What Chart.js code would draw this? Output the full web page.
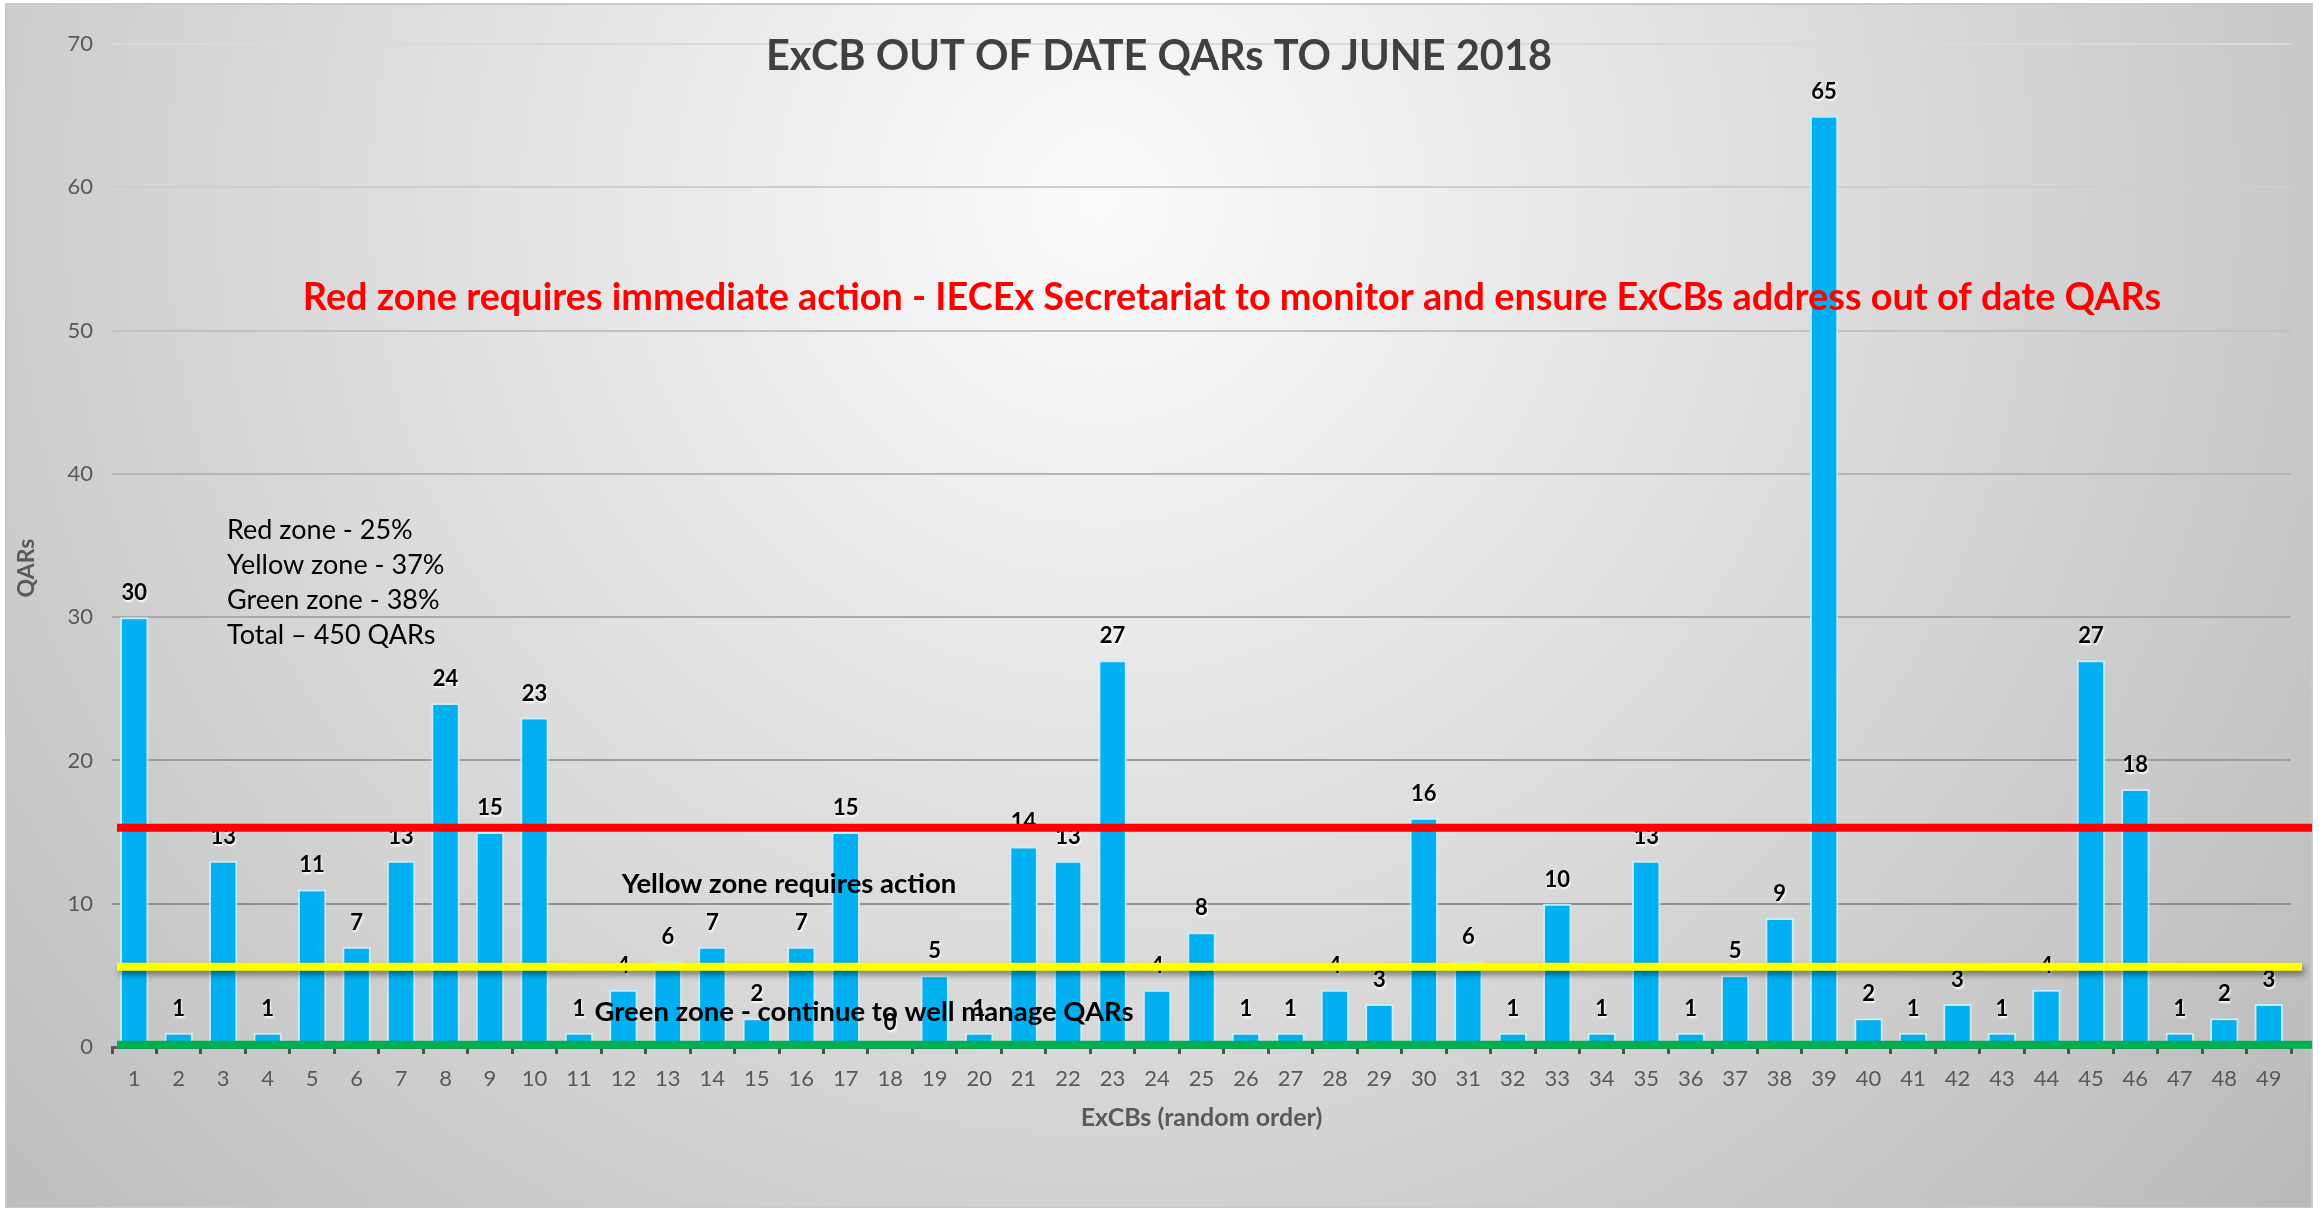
<!DOCTYPE html>
<html>
<head>
<meta charset="utf-8">
<title>ExCB out of date QARs</title>
<script src="https://cdn.jsdelivr.net/npm/chart.js@4.4.1/dist/chart.umd.min.js"></script>
<style>
  html, body { margin: 0; padding: 0; background: #fff; }
  #wrap { width: 2323px; height: 1208px; }
</style>
</head>
<body>
<div id="wrap"><canvas id="chart" width="2323" height="1208"></canvas></div>
<script>
const excbs = ["1", "2", "3", "4", "5", "6", "7", "8", "9", "10", "11", "12", "13", "14", "15", "16", "17",
  "18", "19", "20", "21", "22", "23", "24", "25", "26", "27", "28", "29", "30", "31", "32", "33", "34",
  "35", "36", "37", "38", "39", "40", "41", "42", "43", "44", "45", "46", "47", "48", "49"];
const qars = [30, 1, 13, 1, 11, 7, 13, 24, 15, 23, 1, 4, 6, 7, 2, 7, 15, 0, 5, 1, 14, 13, 27, 4, 8,
  1, 1, 4, 3, 16, 6, 1, 10, 1, 13, 1, 5, 9, 65, 2, 1, 3, 1, 4, 27, 18, 1, 2, 3];

const zoneNames = ["Red zone", "Yellow zone", "Green zone"];
const zoneShare = [25, 37, 38];
const zoneLevels = [15.3, 5.6, 0.15];
const zoneColors = ["#ff0000", "#ffff00", "#00b050"];

const title = "ExCB OUT OF DATE QARs TO JUNE 2018";
const redNote = "Red zone requires immediate action - IECEx Secretariat to monitor and ensure ExCBs address out of date QARs";
const yellowNote = "Yellow zone requires action";
const greenNote = "Green zone - continue to well manage QARs";

const FONT = "Lato, 'Open Sans', sans-serif";
const total = qars.reduce((a, b) => a + b, 0);

// gridlines fade out towards the top like the original
function gridGrey(v) {
  const t = Math.min(1, Math.max(0, (v - 10) / 60));
  const g = Math.round(0x8f + t * (0xda - 0x8f));
  return `rgb(${g},${g},${g})`;
}

const backdrop = {
  id: "backdrop",
  beforeDraw(chart) {
    const { ctx, width, height } = chart;
    ctx.save();
    ctx.fillStyle = "#fff";
    ctx.fillRect(0, 0, width, height);
    const g = ctx.createRadialGradient(1100, 200, 0, 1100, 200, 1600);
    g.addColorStop(0, "#fbfbfb");
    g.addColorStop(1, "#b8b8b8");
    ctx.fillStyle = g;
    ctx.fillRect(6, 4, width - 17, height - 4);
    ctx.strokeStyle = "#c9c9c9";
    ctx.lineWidth = 2;
    ctx.strokeRect(6, 4, width - 17, height - 4);
    ctx.restore();
  }
};

const overlays = {
  id: "overlays",
  afterDatasetsDraw(chart) {
    const { ctx, chartArea, width } = chart;
    const y = chart.scales.y;
    const meta = chart.getDatasetMeta(0);

    // value labels
    ctx.save();
    ctx.font = `bold 22px ${FONT}`;
    ctx.textAlign = "center";
    ctx.textBaseline = "middle";
    ctx.fillStyle = "#000";
    ctx.shadowColor = "rgba(255,255,255,0.95)";
    ctx.shadowOffsetX = 1;
    ctx.shadowOffsetY = 2;
    ctx.shadowBlur = 2;
    meta.data.forEach((bar, i) => ctx.fillText(String(qars[i]), bar.x, bar.y - 24));
    ctx.restore();

    // zone lines
    const ends = [width - 11, width - 21, width - 11];
    zoneLevels.forEach((lvl, i) => {
      const py = y.getPixelForValue(lvl);
      ctx.save();
      if (i === 1) {
        ctx.shadowColor = "rgba(0,0,0,0.45)";
        ctx.shadowBlur = 6;
        ctx.shadowOffsetX = 2;
        ctx.shadowOffsetY = 4;
      }
      ctx.strokeStyle = zoneColors[i];
      ctx.lineWidth = 8;
      ctx.beginPath();
      ctx.moveTo(chartArea.left + 5, py);
      ctx.lineTo(ends[i], py);
      ctx.stroke();
      ctx.restore();
    });

    // notes
    ctx.save();
    ctx.textBaseline = "middle";
    ctx.textAlign = "center";
    ctx.fillStyle = "#ff0000";
    ctx.font = `bold 37.8px ${FONT}`;
    ctx.fillText(redNote, 1232, y.getPixelForValue(52.3));

    ctx.fillStyle = "#000";
    ctx.font = `bold 27.5px ${FONT}`;
    ctx.fillText(yellowNote, 789, y.getPixelForValue(11.4));
    ctx.fillText(greenNote, 864, y.getPixelForValue(2.4));

    ctx.textAlign = "left";
    ctx.font = `27px ${FONT}`;
    const lines = zoneNames.map((n, i) => `${n} - ${zoneShare[i]}%`).concat([`Total – ${total} QARs`]);
    lines.forEach((t, i) => ctx.fillText(t, 227, 530 + i * 35));

    ctx.textAlign = "center";
    ctx.fillStyle = "#404040";
    ctx.font = `bold 41.5px ${FONT}`;
    ctx.fillText(title, 1159, 57);

    // y axis title, sits a bit below the middle of the axis in the original
    ctx.translate(27, 568);
    ctx.rotate(-Math.PI / 2);
    ctx.fillStyle = "#595959";
    ctx.font = `bold 23px ${FONT}`;
    ctx.fillText("QARs", 0, 0);
    ctx.restore();
  }
};

new Chart(document.getElementById("chart"), {
  type: "bar",
  data: {
    labels: excbs,
    datasets: [{
      label: "QARs",
      data: qars,
      backgroundColor: "#00b0f0",
      borderColor: "rgba(200,238,252,0.95)",
      borderWidth: 2,
      categoryPercentage: 1,
      barPercentage: 0.64,
    }],
  },
  options: {
    responsive: false,
    devicePixelRatio: 1,
    animation: false,
    layout: { padding: { left: 6, top: 44, right: 32, bottom: 0 } },
    plugins: {
      legend: { display: false },
      tooltip: { enabled: false },
      title: { display: false },
    },
    scales: {
      x: {
        afterFit: s => { s.height = 161; },
        grid: { drawOnChartArea: false, drawTicks: true, tickLength: 7, color: "#505050", lineWidth: 3 },
        border: { display: true, color: "#595959", width: 3 },
        ticks: { color: "#595959", font: { family: FONT, size: 22 }, padding: 12, maxRotation: 0, autoSkip: false },
        title: {
          display: true, text: "ExCBs (random order)", color: "#595959",
          font: { family: FONT, size: 25, weight: "bold" }, padding: { top: 0, bottom: 75 },
        },
      },
      y: {
        min: 0, max: 70,
        afterFit: s => { s.width = 106; },
        grid: { drawTicks: false, color: c => gridGrey(c.tick ? c.tick.value : 0), lineWidth: 2 },
        border: { display: false },
        ticks: { stepSize: 10, color: "#595959", font: { family: FONT, size: 22 }, padding: 19 },
      },
    },
  },
  plugins: [backdrop, overlays],
});
</script>
</body>
</html>
